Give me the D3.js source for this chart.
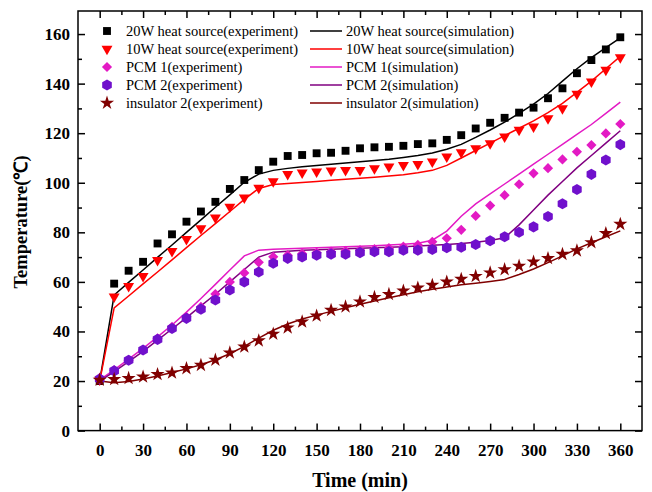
<!DOCTYPE html>
<html>
<head>
<meta charset="utf-8">
<script src="https://cdn.jsdelivr.net/npm/d3@7/dist/d3.min.js"></script>
<style>
  html, body { margin: 0; padding: 0; background: #fff; }
  svg { display: block; }
  text { font-family: "Liberation Serif", "Times New Roman", serif; }
</style>
</head>
<body>
<svg id="chart" width="652" height="492"></svg>
<script>
// Measurement times (min)
const expTimes = [0,10,20,30,40,50,60,70,80,90,100,110,120,130,140,150,160,170,180,190,200,210,220,230,240,250,260,270,280,290,300,310,320,330,340,350,360];
const simTimes = [0,10,20,30,40,50,60,70,80,90,100,110,120,130,140,150,160,170,180,190,200,210,220,230,240,250,260,270,280,290,300,310,320,330,340,350,360];

// Experimental temperatures (°C)
const heat20Exp = [20,59.3,64.5,68.1,75.5,79.2,84.3,88.4,92.3,97.5,101.1,105.1,108.5,110.8,111.2,111.9,112.1,112.9,113.9,114.3,114.5,114.9,115.6,115.9,117.3,119.2,121.9,124.2,126.2,128.3,130.3,134.1,138.1,144.2,149.5,153.8,158.7];
const heat10Exp = [20.5,54,58.3,62.3,68.8,72.4,77.2,81.6,85.9,90.3,94,97.9,100.5,103.5,104.1,104.5,104.9,105.1,105.1,105.8,106.5,107.1,107.5,108.5,110.5,112.2,113.9,115.9,118.6,121.3,122.6,126,130,135.8,140.8,145.5,150.6];
const pcm1Exp = [21.3,24.4,28.4,32.5,37.2,41.9,45.9,49.9,55.1,60,63.6,67.9,70.1,70.8,71.4,71.8,72.2,72.5,72.8,73.2,73.6,74.2,74.9,76.2,77.6,81,86.6,90.8,95,99.4,103.8,105.9,109.4,112.5,115.2,119.9,123.7];
const pcm2Exp = [20.8,24.1,28.4,32.5,36.8,41.2,45.3,49,52.7,56.7,60,64,67.5,69.5,70.1,70.8,71.2,71.2,71.8,72.2,72.2,72.8,72.8,73.1,73.8,74,75.1,76.6,78.2,80,82.2,86.4,91.5,97.3,103.4,109.2,115.4];
const insul2Exp = [20.4,20.7,21.1,21.7,22.7,23.3,25.1,26.4,28.5,31.4,33.8,36.3,39,41.5,43.9,46.3,48.6,50,52,53.8,55,56.4,57.6,58.7,60,61.1,62.3,63.7,65,66.4,68.1,69.5,71.2,72.6,75.9,79.6,83.3];

// Simulated temperatures (°C)
const heat20Sim = [20,54.7,59.8,64.8,69.9,74.9,80,85,90.1,95.1,100.2,103.5,105,105.8,106.5,107,107.5,108,108.5,109,109.5,110.2,111,112,113.5,115.5,118.3,121.3,124.5,128,131.7,136,141,146,150.5,154.5,158.5];
const heat10Sim = [20,49.5,54.3,59.2,64,68.9,73.8,78.7,83.5,88.4,93.3,97.7,99.3,99.7,100.1,100.5,101,101.4,101.8,102.2,102.7,103.2,104,105,107,110,113,116,119,122,125,128.3,132,136.5,141,146,151];
const pcm1Sim = [20.5,24.5,28.8,33.2,37.8,42.6,47.8,53.3,59,64.8,70.5,72.8,73.2,73.4,73.6,73.8,74,74.2,74.4,74.6,74.9,75.2,75.6,76.8,80.5,86.5,91.5,95.5,99.5,103.5,107.5,111.5,115.5,119.5,123.5,128,132.5];
const pcm2Sim = [20,23.8,27.8,32,36.5,41,45.6,50.3,55,60,65,70,72,72.4,72.8,73,73.2,73.4,73.6,73.8,74,74.2,74.5,74.8,75.1,75.5,76,76.7,77.8,83,89,95,100.5,106,111,116,121];
const insul2Sim = [20,19.3,19.8,20.8,22,23.4,24.9,26.6,28.6,31,34,37.3,40.5,43,45,46.6,48.1,49.6,51,52.3,53.6,54.8,56,57,57.9,58.8,59.5,60.2,61,63,65.2,67.8,70.5,73.3,75.8,78.2,80.6];

// Axis ticks
const xTicks = [0,30,60,90,120,150,180,210,240,270,300,330,360];
const xMinorTicks = [15,45,75,105,135,165,195,225,255,285,315,345];
const yTicks = [0,20,40,60,80,100,120,140,160];
const yMinorTicks = [10,30,50,70,90,110,130,150];

const svg = d3.select("#chart");
const plotLeft = 78, plotRight = 642, plotTop = 11, plotBottom = 430.6;

const x = d3.scaleLinear().domain([-15, 375]).range([plotLeft, plotRight]);
const y = d3.scaleLinear().domain([0, 169.3]).range([plotBottom, plotTop]);

// Hexagon marker (vertex at top)
const symbolHexagon = {
  draw(ctx, size) {
    const r = Math.sqrt(size / (1.5 * Math.sqrt(3)));
    for (let i = 0; i < 6; i++) {
      const a = -Math.PI / 2 + i * Math.PI / 3;
      const px = r * Math.cos(a), py = r * Math.sin(a);
      if (i === 0) ctx.moveTo(px, py); else ctx.lineTo(px, py);
    }
    ctx.closePath();
  }
};

const series = [
  { exp: heat20Exp, sim: heat20Sim, color: "#000000", lineColor: "#000000", symbol: d3.symbolSquare, size: 62, rotate: 0,
    expName: "20W heat source(experiment)", simName: "20W heat source(simulation)" },
  { exp: heat10Exp, sim: heat10Sim, color: "#ff0000", lineColor: "#ff0000", symbol: d3.symbolTriangle, size: 52, rotate: 180,
    expName: "10W heat source(experiment)", simName: "10W heat source(simulation)" },
  { exp: pcm1Exp, sim: pcm1Sim, color: "#e31ac4", lineColor: "#e31ac4", symbol: d3.symbolSquare, size: 52, rotate: 45,
    expName: "PCM 1(experiment)", simName: "PCM 1(simulation)" },
  { exp: pcm2Exp, sim: pcm2Sim, color: "#7010cc", lineColor: "#800080", symbol: symbolHexagon, size: 80, rotate: 0,
    expName: "PCM 2(experiment)", simName: "PCM 2(simulation)" },
  { exp: insul2Exp, sim: insul2Sim, color: "#800000", lineColor: "#800000", symbol: d3.symbolStar, size: 62, rotate: 0,
    expName: "insulator 2(experiment)", simName: "insulator 2(simulation)" }
];

// Simulation curves
const line = d3.line().x(d => x(d[0])).y(d => y(d[1]));
const gLines = svg.append("g");
series.forEach(s => {
  gLines.append("path")
    .datum(simTimes.map((t, i) => [t, s.sim[i]]))
    .attr("d", line)
    .attr("fill", "none")
    .attr("stroke", s.lineColor)
    .attr("stroke-width", 1.5);
});

// Experimental markers
const gPts = svg.append("g");
series.forEach(s => {
  const sym = d3.symbol().type(s.symbol).size(s.size);
  gPts.append("g").selectAll("path")
    .data(expTimes.map((t, i) => [t, s.exp[i]]))
    .join("path")
    .attr("d", sym)
    .attr("transform", d => `translate(${x(d[0])},${y(d[1])}) rotate(${s.rotate})`)
    .attr("fill", s.color);
});

// Axes: ticks pointing inward on all four sides
const axisW = 1.5;
const fontStack = "'Liberation Serif', 'Times New Roman', serif";
function styleAxis(g) {
  g.select(".domain").remove();
  g.selectAll(".tick line").attr("stroke", "#000").attr("stroke-width", axisW);
}
function styleLabels(g) {
  g.selectAll("text").attr("font-size", 17).attr("font-weight", "bold")
    .attr("fill", "#000").attr("font-family", fontStack);
}
svg.append("g").attr("transform", `translate(0,${plotBottom})`)
  .call(d3.axisBottom(x).tickValues(xTicks).tickSize(-7).tickPadding(13).tickFormat(d3.format("d")))
  .call(styleAxis).call(styleLabels);
svg.append("g").attr("transform", `translate(0,${plotBottom})`)
  .call(d3.axisBottom(x).tickValues(xMinorTicks).tickSize(-4).tickFormat(""))
  .call(styleAxis);
svg.append("g").attr("transform", `translate(0,${plotTop})`)
  .call(d3.axisTop(x).tickValues(xTicks).tickSize(-7).tickFormat(""))
  .call(styleAxis);
svg.append("g").attr("transform", `translate(0,${plotTop})`)
  .call(d3.axisTop(x).tickValues(xMinorTicks).tickSize(-4).tickFormat(""))
  .call(styleAxis);
svg.append("g").attr("transform", `translate(${plotLeft},0)`)
  .call(d3.axisLeft(y).tickValues(yTicks).tickSize(-7).tickPadding(8).tickFormat(d3.format("d")))
  .call(styleAxis).call(styleLabels);
svg.append("g").attr("transform", `translate(${plotLeft},0)`)
  .call(d3.axisLeft(y).tickValues(yMinorTicks).tickSize(-4).tickFormat(""))
  .call(styleAxis);
svg.append("g").attr("transform", `translate(${plotRight},0)`)
  .call(d3.axisRight(y).tickValues(yTicks).tickSize(-7).tickFormat(""))
  .call(styleAxis);
svg.append("g").attr("transform", `translate(${plotRight},0)`)
  .call(d3.axisRight(y).tickValues(yMinorTicks).tickSize(-4).tickFormat(""))
  .call(styleAxis);

// Frame
svg.append("rect")
  .attr("x", plotLeft).attr("y", plotTop)
  .attr("width", plotRight - plotLeft).attr("height", plotBottom - plotTop)
  .attr("fill", "none").attr("stroke", "#000").attr("stroke-width", axisW);

// Axis titles
svg.append("text")
  .attr("x", 360).attr("y", 487)
  .attr("text-anchor", "middle")
  .attr("font-size", 20).attr("font-weight", "bold")
  .text("Time (min)");
svg.append("text")
  .attr("transform", "translate(27,222) rotate(-90)")
  .attr("text-anchor", "middle")
  .attr("font-size", 18.5).attr("font-weight", "bold")
  .text("Temperature(℃)");

// Legend
const legend = svg.append("g");
const rowY0 = 31, rowStep = 18;
series.forEach((s, i) => {
  const ry = rowY0 + i * rowStep;
  legend.append("path")
    .attr("d", d3.symbol().type(s.symbol).size(s.size)())
    .attr("transform", `translate(107,${ry}) rotate(${s.rotate})`)
    .attr("fill", s.color);
  legend.append("text")
    .attr("x", 126).attr("y", ry).attr("dy", "0.35em")
    .attr("font-size", 14.5).attr("fill", "#000")
    .text(s.expName);
  legend.append("line")
    .attr("x1", 310).attr("x2", 342).attr("y1", ry).attr("y2", ry)
    .attr("stroke", s.lineColor).attr("stroke-width", 1.5);
  legend.append("text")
    .attr("x", 346).attr("y", ry).attr("dy", "0.35em")
    .attr("font-size", 14.5).attr("fill", "#000")
    .text(s.simName);
});
</script>
</body>
</html>
